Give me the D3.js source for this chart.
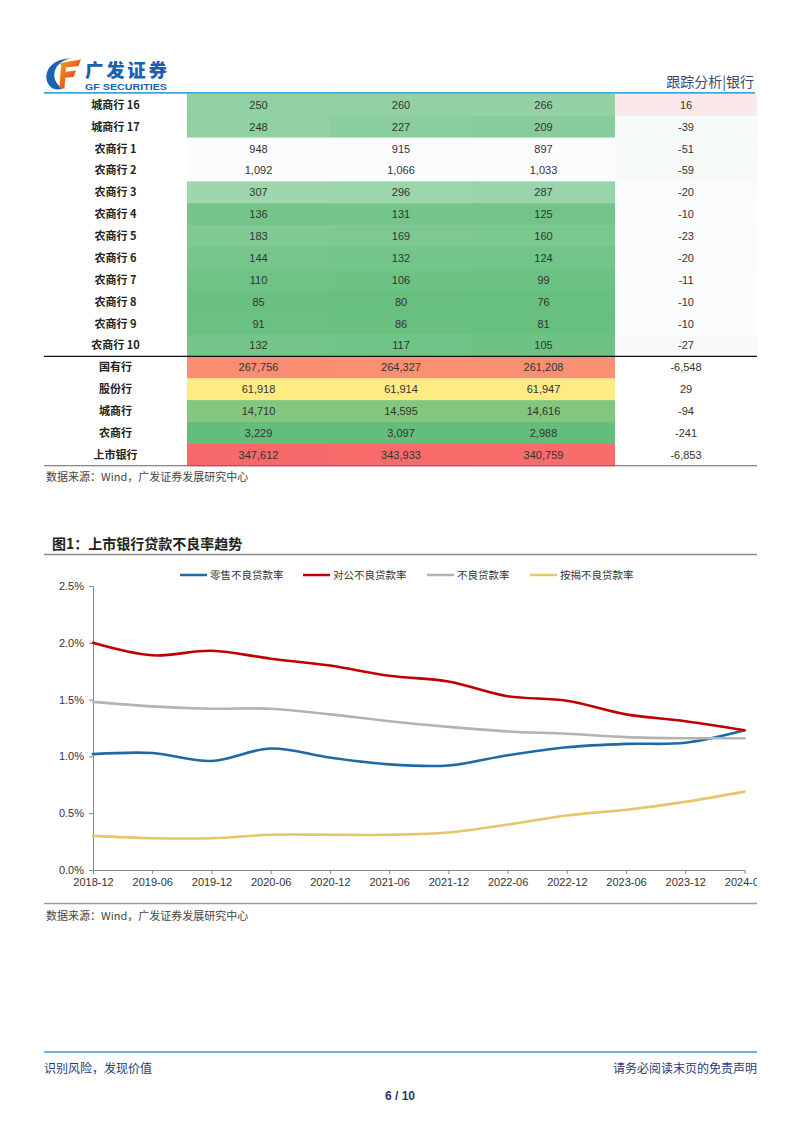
<!DOCTYPE html>
<html><head><meta charset="utf-8">
<script src="https://cdn.jsdelivr.net/npm/d3@7/dist/d3.min.js"></script>
<style>body{margin:0;background:#fff}svg{display:block}</style>
</head><body>
<script>
// ---------- DATA ----------
const bankLabels = ["城商行 16","城商行 17","农商行 1","农商行 2","农商行 3","农商行 4","农商行 5","农商行 6","农商行 7","农商行 8","农商行 9","农商行 10"];
const bankCol1 = [250,248,948,1092,307,136,183,144,110,85,91,132];
const bankCol2 = [260,227,915,1066,296,131,169,132,106,80,86,117];
const bankCol3 = [266,209,897,1033,287,125,160,124,99,76,81,105];
const bankChange = [16,-39,-51,-59,-20,-10,-23,-20,-11,-10,-10,-27];
const aggLabels = ["国有行","股份行","城商行","农商行","上市银行"];
const aggCol1 = [267756,61918,14710,3229,347612];
const aggCol2 = [264327,61914,14595,3097,343933];
const aggCol3 = [261208,61947,14616,2988,340759];
const aggChange = [-6548,29,-94,-241,-6853];

const periods = ["2018-12","2019-06","2019-12","2020-06","2020-12","2021-06","2021-12","2022-06","2022-12","2023-06","2023-12","2024-06"];
const retailNPL   = [1.02,1.03,0.96,1.07,0.99,0.93,0.92,1.01,1.08,1.11,1.12,1.23];
const corpNPL     = [2.00,1.89,1.93,1.86,1.80,1.71,1.66,1.53,1.49,1.37,1.31,1.23];
const totalNPL    = [1.48,1.44,1.42,1.42,1.37,1.31,1.26,1.22,1.20,1.17,1.16,1.16];
const mortgageNPL = [0.30,0.28,0.28,0.31,0.31,0.31,0.33,0.40,0.48,0.53,0.60,0.69];
const seriesNames = ["零售不良贷款率","对公不良贷款率","不良贷款率","按揭不良贷款率"];
const yTicks = [0,0.5,1.0,1.5,2.0,2.5];

// ---------- PAGE ----------
const W=802,H=1133;
const svg=d3.select("body").append("svg").attr("width",W).attr("height",H);
svg.append("rect").attr("width",W).attr("height",H).attr("fill","#fff");
const CJK="'Noto Sans CJK SC','Noto Sans',sans-serif";
const NUM="'Liberation Sans',Arial,sans-serif";
const L=44,R=757;

// logo
const defs=svg.append("defs");
const grad=defs.append("linearGradient").attr("id","fg").attr("x1","0").attr("y1","0").attr("x2","1").attr("y2","1");
grad.append("stop").attr("offset","0").attr("stop-color","#f7a21b");
grad.append("stop").attr("offset","1").attr("stop-color","#e2231a");
const logo=svg.append("g");
logo.append("path").attr("d","M71 58.5 C52 58 41 73 49 85 C52 89.5 58 90.5 63 88.5 C55 84 52 76 56 68 C59 62.5 64 60 71 58.5 Z").attr("fill","#1b63b0");
logo.append("path").attr("d","M60 63 L81 59.5 L78.5 66 L62 68 Z M61.5 72.5 L76 70.5 L73.5 77 L61.5 78 Z M61 66 L66 66 L64.5 88.5 L59.5 88 Z").attr("fill","url(#fg)");
logo.append("text").attr("x",85).attr("y",77).attr("font-family",CJK).attr("font-weight",900).attr("font-size",18.5).attr("fill","#1b5fae").attr("textLength",82).text("广发证券");
logo.append("text").attr("x",85).attr("y",89.5).attr("font-family",NUM).attr("font-weight",700).attr("font-size",8.5).attr("fill","#1b5fae").attr("textLength",82).attr("lengthAdjust","spacingAndGlyphs").text("GF SECURITIES");

svg.append("text").attr("x",754).attr("y",86.5).attr("text-anchor","end").attr("font-family",CJK).attr("font-size",14).attr("fill","#3b4a6c").text("跟踪分析|银行");

// ---------- TABLE ----------
const rowH=21.88, top0=93.8;
const colX=[L,187,330,472,615,R];
const greenWhite=d3.scaleLinear().domain([60,700]).range(["#63BE7B","#FCFCFF"]).clamp(true);
const chgScale=d3.scaleLinear().domain([-60,0,40]).range(["#F5FAF7","#FCFCFF","#F8CBCD"]).clamp(true);
const aggAll=aggCol1.concat(aggCol2,aggCol3);
const aggMed=d3.median(aggAll);
const aggScale=d3.scaleLinear().domain([d3.min(aggAll),aggMed,d3.max(aggAll)]).range(["#63BE7B","#FFEB84","#F8696B"]);
const fmt=d3.formatLocale({decimal:".",thousands:",",grouping:[3],currency:["",""],minus:"-"}).format(",");

const rows=[];
bankLabels.forEach((lab,i)=>rows.push({lab,vals:[bankCol1[i],bankCol2[i],bankCol3[i]],chg:bankChange[i],cs:greenWhite,chs:chgScale}));
aggLabels.forEach((lab,i)=>rows.push({lab,vals:[aggCol1[i],aggCol2[i],aggCol3[i]],chg:aggChange[i],cs:aggScale,chs:()=>"#ffffff"}));

const tbl=svg.append("g");
rows.forEach((r,i)=>{
  const y0=top0+i*rowH, yc=y0+rowH/2;
  r.vals.forEach((v,j)=>{
    tbl.append("rect").attr("x",colX[j+1]).attr("y",y0).attr("width",colX[j+2]-colX[j+1]+0.5).attr("height",rowH+0.5).attr("fill",r.cs(v));
    tbl.append("text").attr("x",(colX[j+1]+colX[j+2])/2).attr("y",yc+4).attr("text-anchor","middle").attr("font-family",NUM).attr("font-size",11).attr("fill","#333").text(fmt(v));
  });
  tbl.append("rect").attr("x",colX[4]).attr("y",y0).attr("width",colX[5]-colX[4]).attr("height",rowH+0.5).attr("fill",r.chs(r.chg));
  tbl.append("text").attr("x",(colX[4]+colX[5])/2).attr("y",yc+4).attr("text-anchor","middle").attr("font-family",NUM).attr("font-size",11).attr("fill","#333").text(fmt(r.chg));
  tbl.append("text").attr("x",(colX[0]+colX[1])/2).attr("y",yc+4).attr("text-anchor","middle").attr("font-family",CJK).attr("font-weight",700).attr("font-size",11).attr("fill","#222").text(r.lab);
});
const sepY=top0+bankLabels.length*rowH;
tbl.append("line").attr("x1",L).attr("x2",R).attr("y1",sepY).attr("y2",sepY).attr("stroke","#111").attr("stroke-width",1.2);
const botY=top0+rows.length*rowH;
tbl.append("line").attr("x1",L).attr("x2",R).attr("y1",botY).attr("y2",botY).attr("stroke","#666").attr("stroke-width",1);

// header line (over table top)
svg.append("line").attr("x1",L).attr("x2",755).attr("y1",92.8).attr("y2",92.8).attr("stroke","#3aa6dc").attr("stroke-width",1.8);

svg.append("text").attr("x",46).attr("y",481).attr("font-family",CJK).attr("font-size",11).attr("fill","#444").text("数据来源：Wind，广发证券发展研究中心");

// ---------- CHART ----------
svg.append("text").attr("x",52).attr("y",549).attr("font-family",CJK).attr("font-weight",700).attr("font-size",14).attr("fill","#222").text("图1：上市银行贷款不良率趋势");
svg.append("line").attr("x1",L).attr("x2",R).attr("y1",554.5).attr("y2",554.5).attr("stroke","#8c8c8c").attr("stroke-width",1.3);

const colors=["#1F69A7","#C00000","#B3B3B3","#E6C66A"];
const series=[retailNPL,corpNPL,totalNPL,mortgageNPL];

// legend
const legX=[180,303,427,530];
seriesNames.forEach((n,i)=>{
  svg.append("line").attr("x1",legX[i]).attr("x2",legX[i]+27).attr("y1",575).attr("y2",575).attr("stroke",colors[i]).attr("stroke-width",2.5);
  svg.append("text").attr("x",legX[i]+30).attr("y",579).attr("font-family",CJK).attr("font-size",10.5).attr("fill","#333").text(n);
});

const x=d3.scalePoint().domain(periods).range([93,744.5]);
const y=d3.scaleLinear().domain([0,2.5]).range([870,586]);
defs.append("clipPath").attr("id","cc").append("rect").attr("x",0).attr("y",556).attr("width",757).attr("height",340);
const ch=svg.append("g").attr("clip-path","url(#cc)");

const ya=ch.append("g").attr("transform","translate(93,0)").call(d3.axisLeft(y).tickValues(yTicks).tickFormat(d=>d.toFixed(1)+"%").tickSize(4).tickPadding(5));
const xa=ch.append("g").attr("transform","translate(0,870)").call(d3.axisBottom(x).tickSize(4).tickSizeOuter(0).tickPadding(4));
[ya,xa].forEach(a=>{a.selectAll("path,line").attr("stroke","#888");a.selectAll("text").attr("font-family",NUM).attr("font-size",11).attr("fill","#333");});

const line=d3.line().x((d,i)=>x(periods[i])).y(d=>y(d)).curve(d3.curveCatmullRom.alpha(0.5));
series.forEach((s,i)=>{
  ch.append("path").attr("d",line(s)).attr("fill","none").attr("stroke",colors[i]).attr("stroke-width",2.6).attr("stroke-linecap","round");
});

svg.append("line").attr("x1",L).attr("x2",R).attr("y1",903.5).attr("y2",903.5).attr("stroke","#999").attr("stroke-width",1.3);
svg.append("text").attr("x",46).attr("y",920).attr("font-family",CJK).attr("font-size",11).attr("fill","#444").text("数据来源：Wind，广发证券发展研究中心");

// ---------- FOOTER ----------
svg.append("line").attr("x1",L).attr("x2",R).attr("y1",1052).attr("y2",1052).attr("stroke","#2f9fdc").attr("stroke-width",1.6);
svg.append("text").attr("x",L).attr("y",1073).attr("font-family",CJK).attr("font-size",12).attr("fill","#1f3b75").text("识别风险，发现价值");
svg.append("text").attr("x",R).attr("y",1073).attr("text-anchor","end").attr("font-family",CJK).attr("font-size",12).attr("fill","#1f3b75").text("请务必阅读末页的免责声明");
svg.append("text").attr("x",400).attr("y",1100).attr("text-anchor","middle").attr("font-family",NUM).attr("font-weight",700).attr("font-size",12).attr("fill","#1f3b75").text("6 / 10");
</script>
</body></html>
